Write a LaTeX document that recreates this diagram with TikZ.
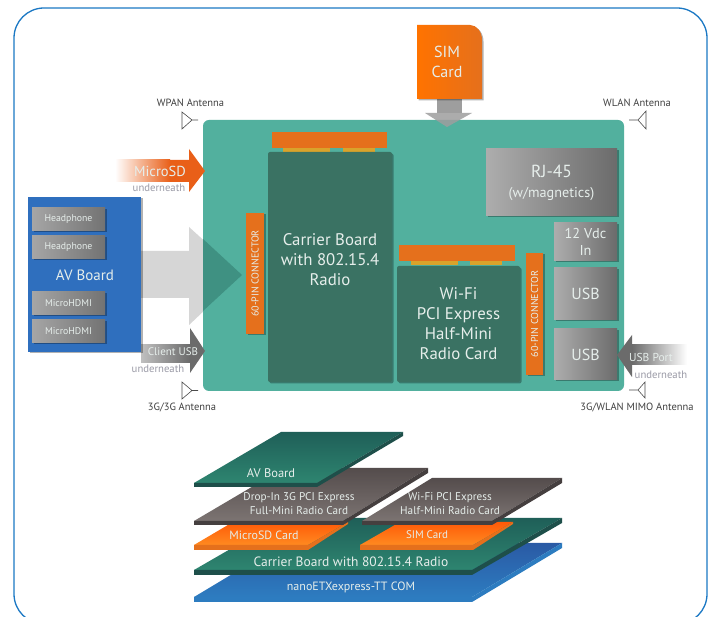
\documentclass[tikz,border=0pt]{standalone}
\usepackage{fontspec}
\setmainfont{PT Sans}
\usetikzlibrary{shadows}
\definecolor{framec}{HTML}{1B78C4}
\definecolor{tealc}{HTML}{52B09E}
\definecolor{darktealc}{HTML}{3A7263}
\definecolor{wedgec}{HTML}{3F9182}
\definecolor{orangec}{HTML}{E5701C}
\definecolor{pinc}{HTML}{D9A32B}
\definecolor{bluec}{HTML}{2F6FBE}
\definecolor{paper}{HTML}{E6EEEB}
\definecolor{faintc}{HTML}{9A9AA6}
\definecolor{platetop}{HTML}{1F5F58}
\definecolor{platelow}{HTML}{2E8570}
\definecolor{plateedge}{HTML}{1E4F4A}
\definecolor{graytop}{HTML}{544C4C}
\definecolor{graylow}{HTML}{7C7472}
\definecolor{grayedge}{HTML}{453F3F}
\definecolor{sdtop}{HTML}{FF5A08}
\definecolor{sdlow}{HTML}{FF8A20}
\definecolor{comtop}{HTML}{2A5AA5}
\definecolor{comedge}{HTML}{2D7CC0}
\begin{document}
\begin{tikzpicture}[x=1pt,y=-1pt,
shad/.style={drop shadow={shadow xshift=1.5pt,shadow yshift=-1.5pt,opacity=.3,fill=black}},
block/.style={inner sep=0pt,align=center,text=paper,font=\fontsize{15}{19.5}\selectfont},
board/.style={inner sep=0pt,fill=darktealc,rounded corners=2pt},
boardtext/.style={inner sep=0pt,align=center,text=paper,font=\fontsize{16.8}{20}\selectfont},
strip/.style={inner sep=0pt,fill=orangec},
pins/.style={inner sep=0pt,fill=pinc},
conn/.style={block,fill=orangec,rotate=90,shad,font=\fontsize{10}{12}\selectfont},
port/.style={block,left color=black!32,right color=black!58,shad},
plug/.style={block,left color=black!35,right color=black!55,shad,font=\fontsize{9.8}{12}\selectfont},
lab/.style={inner sep=0pt,text=black!75,font=\fontsize{10.5}{12}\selectfont},
under/.style={inner sep=0pt,text=faintc,font=\fontsize{10.7}{12}\selectfont},
arrowlab/.style={inner sep=0pt,text=paper},
ant/.style={draw=black!70,line width=.6pt},
layer/.style={inner sep=0pt,align=center,text=paper,font=\fontsize{11.2}{14}\selectfont},
plate/.style={top color=platetop,bottom color=platelow},
grayplate/.style={top color=graytop,bottom color=graylow},
cardplate/.style={top color=sdtop,bottom color=sdlow}]
\useasboundingbox (0,0) rectangle (713,617);
\fill[white] (0,0) rectangle (713,617);
\begin{scope}
\clip (0,0) rectangle (713,617);
\draw[framec,line width=1.3pt,rounded corners=30pt] (14,8) rectangle (707,624);
\end{scope}
% arrows behind the board
\fill[black!16] (141,251)--(189,251)--(189,227)--(242,275)--(189,325)--(189,298)--(141,298)--cycle;
\node[fill=tealc,rounded corners=6pt,inner sep=0pt,minimum width=421pt,minimum height=271pt] (main) at (413.5,255.5) {};
\fill[wedgec] (203,239)--(242,275)--(203,311)--cycle;
% sim card
\fill[black!38] (437,99) rectangle (462,113);
\fill[black!38,opacity=.85] (425,113)--(472,113)--(447,127)--cycle;
\path[left color=orange!90!red,right color=orangec,shad] (417,25)--(470,25) .. controls (477,25) and (482,32) .. (482,40)--(482,99)--(417,99)--cycle;
\node[block,font=\fontsize{16}{20}\selectfont] (sim) at (447,62) {SIM\\Card};
% microsd arrow
\shade[left color=white,right color=orangec!85!red] (115,160) rectangle (170,182);
\fill[orangec!85!red] (170,160)--(189,160)--(189,149)--(205,171)--(189,192)--(189,182)--(170,182)--cycle;
\node[arrowlab,font=\fontsize{14.5}{16}\selectfont] (microsd) at (160,171) {MicroSD};
\node[under] (sdunder) at (159,188) {underneath};
% client usb arrow
\shade[left color=black!25,right color=black!58] (141,345) rectangle (190,363);
\fill[black!58] (190,328)--(205,351)--(190,373)--cycle;
\node[arrowlab,font=\fontsize{11}{12}\selectfont] (clientusb) at (173,352) {Client USB};
\node[under] (clunder) at (158,369) {underneath};
% av board
\node[block,fill=bluec,shad,minimum width=113pt,minimum height=155pt] (av) at (84.5,274.5) {};
\node[plug,minimum width=73pt,minimum height=23pt] (phone1) at (68.5,219.5) {Headphone};
\node[plug,minimum width=73pt,minimum height=23pt] (phone2) at (68.5,247.5) {Headphone};
\node[block] (avtext) at (85,275) {AV Board};
\node[plug,minimum width=73pt,minimum height=23pt] (hdmi1) at (68.5,303.5) {MicroHDMI};
\node[plug,minimum width=73pt,minimum height=23pt] (hdmi2) at (68.5,331) {MicroHDMI};
% carrier board
\node[strip,minimum width=115pt,minimum height=16pt] (cstrip) at (329.5,140) {};
\node[pins,minimum width=47pt,minimum height=4pt] (cpin1) at (306.5,150) {};
\node[pins,minimum width=32pt,minimum height=4pt] (cpin2) at (359,150) {};
\node[board,shad,minimum width=124pt,minimum height=230pt] (carrier) at (330,267) {};
\node[boardtext] (carriertext) at (330,260) {Carrier Board\\with 802.15.4\\Radio};
\node[conn,minimum width=121pt,minimum height=18pt] (conn1) at (255,273.5) {60-PIN CONNECTOR};
% wifi card
\node[strip,minimum width=116pt,minimum height=16pt] (wstrip) at (457,253) {};
\node[pins,minimum width=47pt,minimum height=4pt] (wpin1) at (434,263) {};
\node[pins,minimum width=32pt,minimum height=4pt] (wpin2) at (486,263) {};
\node[board,shad,minimum width=123pt,minimum height=116pt] (wifi) at (458.5,324) {};
\node[boardtext] (wifitext) at (458.5,324) {Wi-Fi\\PCI Express\\Half-Mini\\Radio Card};
\node[conn,minimum width=122pt,minimum height=17pt] (conn2) at (534.5,314) {60-PIN CONNECTOR};
% ports
\node[port,minimum width=131pt,minimum height=67pt,font=\fontsize{17.5}{20}\selectfont] (rj) at (551.5,182.5) {RJ-45\\{\fontsize{14.2}{16}\selectfont(w/magnetics)}};
\node[port,minimum width=63pt,minimum height=38pt,font=\fontsize{14.3}{17}\selectfont] (vdc) at (585.5,242) {12 Vdc\\In};
\node[port,minimum width=63pt,minimum height=52pt,font=\fontsize{16}{19}\selectfont] (usb1) at (585.5,294) {USB};
\node[port,minimum width=63pt,minimum height=51pt,font=\fontsize{16}{19}\selectfont] (usb2) at (585.5,354.5) {USB};
% usb port arrow
\shade[left color=black!58,right color=white] (632,345) rectangle (687,365);
\fill[black!58] (632,335)--(617,355)--(632,377)--cycle;
\node[arrowlab,font=\fontsize{11.5}{12}\selectfont] (usbport) at (651,357) {USB Port};
\node[under] (usbunder) at (661,375) {underneath};
% antennas
\draw[ant] (182,112)--(192,120)--(182,129)--cycle (192,120)--(198,120);
\node[lab] (wpan) at (190.5,103) {WPAN Antenna};
\draw[ant] (646,111)--(638,120)--(646,129)--cycle (638,120)--(629,120);
\node[lab] (wlan) at (637,103) {WLAN Antenna};
\draw[ant] (182,382)--(192,390.5)--(182,399)--cycle (192,390.5)--(198,390.5);
\node[lab] (threeg) at (182,407) {3G/3G Antenna};
\draw[ant] (645,382)--(638,390)--(645,398)--cycle (638,390)--(629,390);
\node[lab] (mimo) at (637,407) {3G/WLAN MIMO Antenna};
% layer stack, bottom to top
\shade[top color=comtop,bottom color=comedge] (194,597)--(472,597)--(562,543)--(284,543)--cycle;
\fill[comedge] (194,597)--(472,597)--(562,543)--(562,548)--(472,602)--(194,602)--cycle;
\shade[plate] (194,570)--(472,570)--(562,518)--(284,518)--cycle;
\fill[plateedge] (194,570)--(472,570)--(562,518)--(562,523)--(472,575)--(194,575)--cycle;
\shade[cardplate] (194,545)--(308,545)--(348,522)--(233,522)--cycle;
\fill[orangec] (194,545)--(308,545)--(348,522)--(348,524)--(308,550)--(194,550)--cycle;
\shade[cardplate] (360,545)--(473,545)--(513,522)--(400,522)--cycle;
\fill[orangec] (360,545)--(473,545)--(513,522)--(513,524)--(473,550)--(360,550)--cycle;
\shade[grayplate] (194,521)--(343,521)--(428,468)--(284,468)--cycle;
\fill[grayedge] (194,521)--(343,521)--(428,468)--(428,473)--(343,525)--(194,525)--cycle;
\shade[grayplate] (362,521)--(492,521)--(562,478)--(432,478)--cycle;
\fill[grayedge] (362,521)--(492,521)--(562,478)--(562,483)--(492,525)--(362,525)--cycle;
\shade[plate] (194,483)--(317,483)--(403,432)--(281,432)--cycle;
\fill[plateedge] (194,483)--(317,483)--(403,432)--(403,436)--(317,487)--(194,487)--cycle;
\node[layer,font=\fontsize{12.5}{14}\selectfont] (lav) at (271,473) {AV Board};
\node[layer] (ldrop) at (299,504) {Drop-In 3G PCI Express\\Full-Mini Radio Card};
\node[layer] (lwifi) at (450,504) {Wi-Fi PCI Express\\Half-Mini Radio Card};
\node[layer,font=\fontsize{12}{14}\selectfont] (lsd) at (264,535) {MicroSD Card};
\node[layer,font=\fontsize{11}{14}\selectfont] (lsim) at (427,535) {SIM Card};
\node[layer,font=\fontsize{13.5}{14}\selectfont] (lcarrier) at (351,562) {Carrier Board with 802.15.4 Radio};
\node[layer,font=\fontsize{12}{14}\selectfont] (lcom) at (351,587) {nanoETXexpress-TT COM};
\end{tikzpicture}
\end{document}
